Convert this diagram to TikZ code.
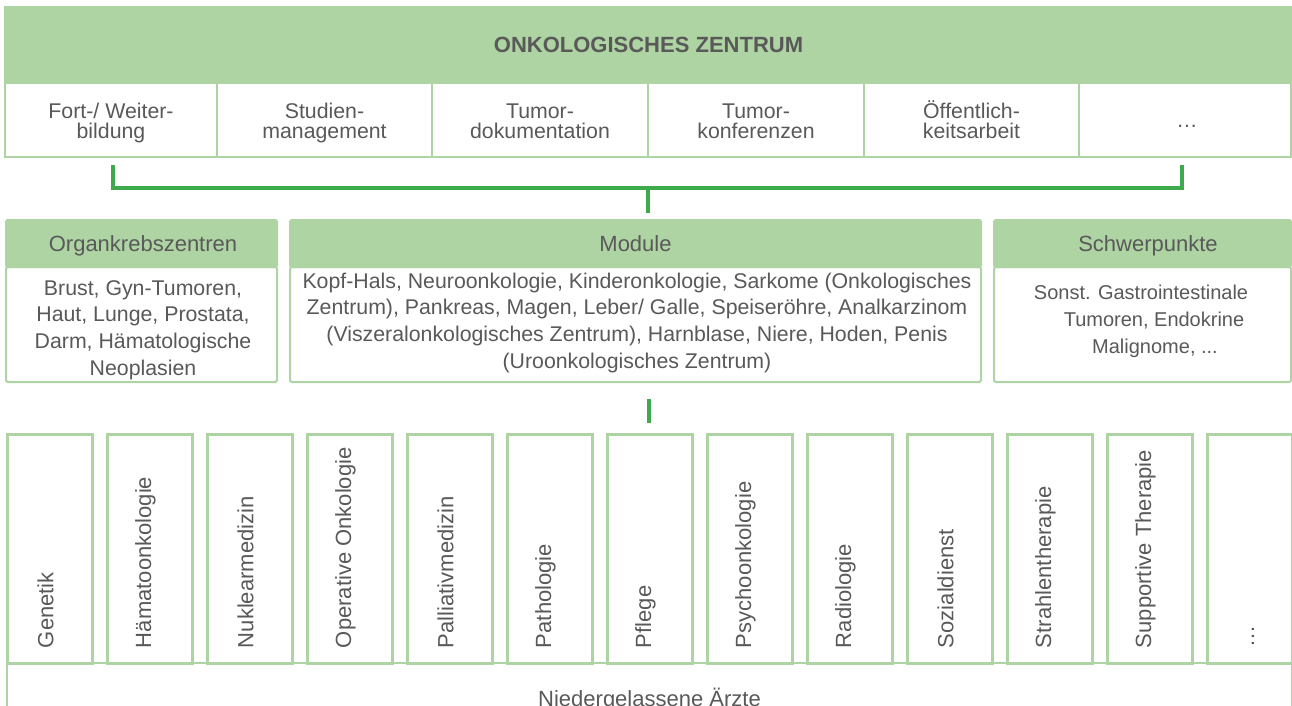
\documentclass[tikz,border=0pt]{standalone}
\usepackage{fontspec}
\setmainfont{Liberation Sans}
\usetikzlibrary{calc}
\definecolor{hdr}{HTML}{AED4A3}
\definecolor{brk}{HTML}{3DAA4B}
\definecolor{txt}{HTML}{595959}
\begin{document}
\begin{tikzpicture}[x=1pt,y=-1pt,
  every node/.style={text=txt, inner sep=0pt, outer sep=0pt},
  hdrbox/.style={fill=hdr, draw=hdr, line width=2pt},
  cellbox/.style={fill=white, draw=hdr, line width=2pt},
  titlefont/.style={font=\bfseries\fontsize{22}{24}\selectfont},
  rowfont/.style={font=\fontsize{21.3}{20.5}\selectfont, align=center},
  hfont/.style={font=\fontsize{22}{26}\selectfont},
  bfont/.style={font=\fontsize{21.3}{26.6}\selectfont, align=center},
  sfont/.style={font=\fontsize{20}{26.6}\selectfont, align=center},
  bracket/.style={draw=brk, line width=3.3pt, line join=miter},
  colbox/.style={draw=hdr, line width=3pt, fill=white, minimum width=85pt, minimum height=229pt},
  vlabel/.style={rotate=90, font=\fontsize{22}{26}\selectfont}
]
\useasboundingbox (0,0) rectangle (1292,706);
\clip (0,0) rectangle (1292,706);

% header
\node[hdrbox, anchor=north west, minimum width=1287pt, minimum height=76pt] (oz) at (5,7) {};
\node[titlefont, anchor=base] (ozt) at (648.5,53) {ONKOLOGISCHES ZENTRUM};

% top row cells
\node[cellbox, minimum width=212pt, minimum height=74pt] (t1) at (111,120) {};
\node[cellbox, minimum width=215pt, minimum height=74pt] (t2) at (324.5,120) {};
\node[cellbox, minimum width=216pt, minimum height=74pt] (t3) at (540,120) {};
\node[cellbox, minimum width=216pt, minimum height=74pt] (t4) at (756,120) {};
\node[cellbox, minimum width=215pt, minimum height=74pt] (t5) at (971.5,120) {};
\node[cellbox, minimum width=212pt, minimum height=74pt] (t6) at (1185,120) {};
\node[rowfont, anchor=base] (t1t) at (111,138.5) {Fort-/ Weiter-\\bildung};
\node[rowfont, anchor=base] (t2t) at (324.5,138.5) {Studien-\\management};
\node[rowfont, anchor=base] (t3t) at (540,138.5) {Tumor-\\dokumentation};
\node[rowfont, anchor=base] (t4t) at (756,138.5) {Tumor-\\konferenzen};
\node[rowfont, anchor=base] (t5t) at (971.5,138.5) {Öffentlich-\\keitsarbeit};
\node[rowfont, anchor=base] (t6t) at (1187,128) {…};

% bracket and stem
\draw[bracket] ([xshift=2pt,yshift=-8pt]t1.south) |- ([xshift=-3pt,yshift=-31pt]t6.south) -- ([xshift=-3pt,yshift=-8pt]t6.south);
\coordinate (s1a) at (648,188);
\coordinate (s1b) at (648,213);
\draw[bracket] (s1a) -- (s1b);

% middle boxes
\node[cellbox, rounded corners=1.5pt, minimum width=271pt, minimum height=115pt] (okb) at (141.5,324.5) {};
\node[hdrbox, rounded corners=1.5pt, minimum width=271pt, minimum height=47pt] (okh) at (141.5,243.5) {};
\node[cellbox, rounded corners=1.5pt, minimum width=691pt, minimum height=115pt] (mob) at (635.5,324.5) {};
\node[hdrbox, rounded corners=1.5pt, minimum width=691pt, minimum height=47pt] (moh) at (635.5,243.5) {};
\node[cellbox, rounded corners=1.5pt, minimum width=297pt, minimum height=115pt] (swb) at (1142.5,324.5) {};
\node[hdrbox, rounded corners=1.5pt, minimum width=297pt, minimum height=47pt] (swh) at (1142.5,243.5) {};

\node[hfont, anchor=base] (okht) at (143,251) {Organkrebszentren};
\node[hfont, anchor=base] (moht) at (635.5,251) {Module};
\node[hfont, anchor=base] (swht) at (1148,251) {Schwerpunkte};

\node[bfont, anchor=base] (okbt) at (143,375) {Brust, Gyn-Tumoren,\\Haut, Lunge, Prostata,\\Darm, Hämatologische\\Neoplasien};
\node[bfont, anchor=base] (mobt) at (637,368) {Kopf-Hals, Neuroonkologie, Kinderonkologie, Sarkome (Onkologisches\\Zentrum), Pankreas, Magen, Leber/ Galle, Speiseröhre, Analkarzinom\\(Viszeralonkologisches Zentrum), Harnblase, Niere, Hoden, Penis\\(Uroonkologisches Zentrum)};
\node[sfont, anchor=base] (swbt) at (1141,353) {Sonst. Gastrointestinale\\\hspace*{26pt}Tumoren, Endokrine\\\hspace*{28pt}Malignome, ...};

% lower stem
\coordinate (s2a) at (649,399);
\coordinate (s2b) at (649,423);
\draw[draw=brk, line width=4pt] (s2a) -- (s2b);

% bottom box
\node[draw=hdr, line width=2.5pt, fill=white, anchor=north west, minimum width=1285pt, minimum height=80pt] (nae) at (7,663) {};
\node[hfont, anchor=base] (naet) at (649.5,706) {Niedergelassene Ärzte};

% columns
\foreach \lab [count=\i from 0] in {Genetik, Hämatoonkologie, Nuklearmedizin, Operative Onkologie, Palliativmedizin, Pathologie, Pflege, Psychoonkologie, Radiologie, Sozialdienst, Strahlentherapie, Supportive Therapie} {
  \node[colbox] (c\i) at ({49.5+100*\i},548.5) {};
  \node[vlabel, anchor=west] (cl\i) at ({45.5+100*\i},648) {\lab};
}
\node[colbox] (c12) at (1249.5,548.5) {};
\node[vlabel, anchor=base west] (cl12) at (1254,647) {…};
\end{tikzpicture}
\end{document}
